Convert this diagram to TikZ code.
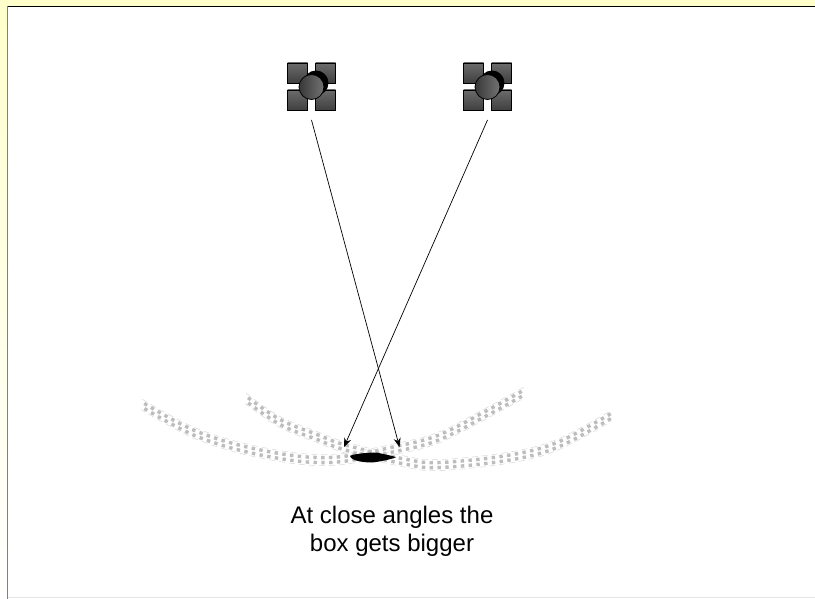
\documentclass[tikz,border=0pt]{standalone}
\usepackage{fontspec}
\setmainfont{Liberation Sans}
\usetikzlibrary{arrows.meta,positioning}
\definecolor{pagetint}{rgb}{1,1,.8}
\tikzset{
	camsquare/.style={rectangle,draw=black,line width=.8pt,top color=black!58,bottom color=black!75,minimum size=20pt,inner sep=0pt},
	camlens/.style={circle,draw=black,line width=.8pt,left color=black!78,right color=black!55,minimum size=25pt,inner sep=0pt},
	cambody/.style={circle,fill=black,minimum size=25pt,inner sep=0pt},
	bandrow/.style={draw=black!26,line width=3.4pt,dash pattern=on 3.4pt off 4.4pt},
	bandedge/.style={draw=black!15,line width=.5pt,dash pattern=on 6pt off 4pt},
	every edge/.style={draw,line width=.7pt}
}
\begin{document}
\begin{tikzpicture}[x=1pt,y=-1pt]
\useasboundingbox (0,0) rectangle (815,599);
\fill[white] (0,0) rectangle (815,599);
\shade[top color=pagetint,bottom color=white] (0,0) rectangle (7,599);
\fill[pagetint] (0,0) rectangle (815,6);
\draw[black,line width=1pt] (7,6.5) -- (815,6.5);
\draw[black!50,line width=1pt] (7.5,6) -- (7.5,599);
\draw[black!10,line width=1pt] (8,597.5) -- (815,597.5);
% the two bands
\foreach \dy/\st in {-2.5/bandrow,2.5/bandrow,-5.5/bandedge,5.5/bandedge}{
	\draw[\st,yshift=\dy pt,dash phase=\dy*1.6pt] plot[smooth,tension=.6] coordinates {(141,404) (197,434) (263,453) (330,460) (400,448) (440,437) (487,413) (525,392)};
	\draw[\st,yshift=\dy pt,dash phase=\dy*1.6pt] plot[smooth,tension=.6] coordinates {(245,398) (280,422) (317,437) (347,448) (407,462) (440,465) (507,458) (557,445) (611,416)};
}
% the box
\fill[black] (350,456) .. controls (351,454.5) and (366,452.5) .. (376,452.5) .. controls (384,454) and (390,455.5) .. (396,457) .. controls (396,458) and (382,461.5) .. (372,462.5) .. controls (362,462.5) and (351,460.5) .. (350,456) -- cycle;
% cameras
\foreach \cam/\cx in {L/311.5,R/487.5}{
	\node[camsquare] (\cam a) at (\cx-14,73) {};
	\node[camsquare] (\cam b) at (\cx+14,73) {};
	\node[camsquare] (\cam c) at (\cx-14,100) {};
	\node[camsquare] (\cam d) at (\cx+14,100) {};
	\node[cambody] (\cam body) at (\cx+4.5,83) {};
	\node[camlens] (\cam lens) at (\cx,87) {};
}
\coordinate[below=33pt of Llens.center] (Lfoot);
\coordinate[below=33pt of Rlens.center] (Rfoot);
\coordinate (Lhit) at (399.5,447);
\coordinate (Rhit) at (344,447);
\path[-{Stealth[length=9pt,width=7pt]}]
(Lfoot)edge [] (Lhit)
(Rfoot)edge [] (Rhit)
;
\node[align=center,font=\fontsize{24}{28}\selectfont] (caption) at (392,531) {At close angles the\\ box gets bigger};
\end{tikzpicture}
\end{document}
